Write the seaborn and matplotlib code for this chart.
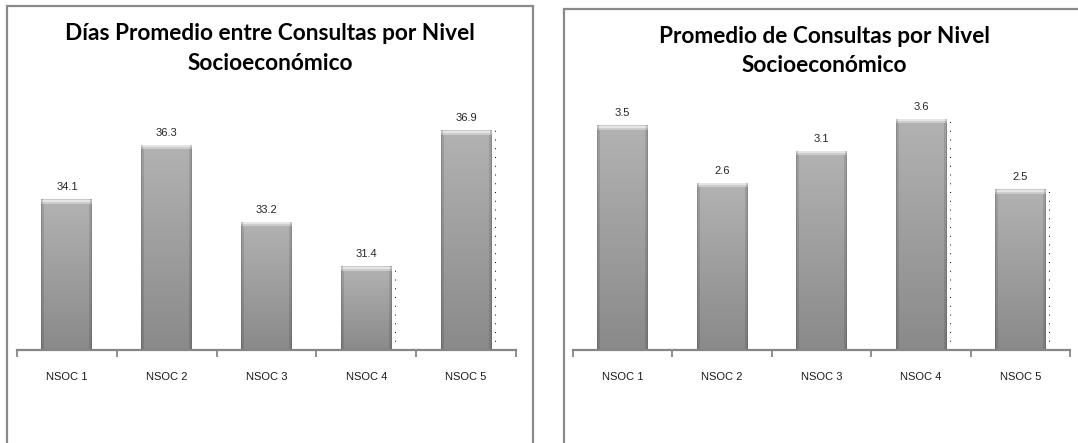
import numpy as np
import pandas as pd
import matplotlib
matplotlib.use("Agg")
import matplotlib.pyplot as plt
from matplotlib.patches import Rectangle
import seaborn as sns

# Data
categorias = ["NSOC 1", "NSOC 2", "NSOC 3", "NSOC 4", "NSOC 5"]
dias_promedio = [34.1, 36.3, 33.2, 31.4, 36.9]
consultas_promedio = [3.5, 2.6, 3.1, 3.6, 2.5]

titulo_dias = "Días Promedio entre Consultas por Nivel\nSocioeconómico"
titulo_consultas = "Promedio de Consultas por Nivel\nSocioeconómico"

sns.set_style("white")
plt.rcParams["font.family"] = ["Liberation Sans", "DejaVu Sans"]

W, H = 1078, 443
fig = plt.figure(figsize=(W / 100, H / 100), dpi=100)
fig.patch.set_facecolor("white")

AXIS_GRAY = "#868686"


def px_box(x0, y_top, x1, y_base):
    """Axes rectangle in figure fractions from pixel coordinates (origin top-left)."""
    return [x0 / W, (H - y_base) / H, (x1 - x0) / W, (y_base - y_top) / H]


def shade_bar(ax, patch, ylo):
    """Paint a beveled grey gradient inside a bar patch."""
    x0 = patch.get_x()
    w = patch.get_width()
    top = patch.get_y() + patch.get_height()
    bottom = max(patch.get_y(), ylo)
    p0 = ax.transData.transform((x0, bottom))
    p1 = ax.transData.transform((x0 + w, top))
    wpx = max(int(round(p1[0] - p0[0])), 4)
    hpx = max(int(round(p1[1] - p0[1])), 4)
    t = np.linspace(0, 1, hpx)[:, None]          # 0 at top, 1 at bottom
    val = np.repeat(0.70 - 0.16 * t, wpx, axis=1)
    # darker vertical edges
    xp = np.arange(wpx)[None, :]
    edge = np.minimum(xp, wpx - 1 - xp)
    val = val * np.where(edge < 1, 0.78, np.where(edge < 3, 0.89, 1.0))
    # light bevel on the top
    yp = np.arange(hpx)[:, None]
    bevel = np.where(yp < 1, 0.78, np.where(yp < 3, 0.90, np.where(yp < 5, 0.80, 0.0)))
    bevel = np.where(edge < 2, bevel * 0.85, bevel)
    val = np.where(bevel > 0, np.maximum(val, bevel), val)
    img = np.repeat(val[:, :, None], 3, axis=2)
    im = ax.imshow(img, extent=(x0, x0 + w, bottom, top), aspect="auto",
                   interpolation="bilinear", zorder=3, origin="upper")
    im.set_clip_path(patch)
    patch.set_alpha(0)


def draw_chart(ax, values, ylim, fmt):
    df = pd.DataFrame({"cat": categorias, "val": values})
    sns.barplot(data=df, x="cat", y="val", color="#a6a6a6", width=0.51,
                ax=ax, zorder=2, saturation=1)
    ax.set_xlim(-0.5, len(categorias) - 0.5)
    ax.set_ylim(*ylim)
    ax.set_xlabel("")
    ax.set_ylabel("")
    ax.set_yticks([])
    for side in ("left", "top", "right"):
        ax.spines[side].set_visible(False)
    ax.spines["bottom"].set_color(AXIS_GRAY)
    ax.spines["bottom"].set_linewidth(1.6)
    ax.spines["bottom"].set_zorder(5)
    ax.set_facecolor("none")

    # category labels centred, tick marks between categories
    ax.set_xticks(range(len(categorias)))
    ax.set_xticklabels(categorias, fontsize=8, color="#1a1a1a")
    ax.tick_params(axis="x", which="major", bottom=True, length=0, pad=16)
    ax.set_xticks(np.arange(-0.5, len(categorias)), minor=True)
    ax.tick_params(axis="x", which="minor", bottom=True, length=5, width=1.3,
                   color=AXIS_GRAY, direction="out")

    for patch, v in zip(ax.patches, values):
        shade_bar(ax, patch, ylim[0])
        cx = patch.get_x() + patch.get_width() / 2
        ax.annotate(fmt.format(v), (cx, v), xytext=(0, 5),
                    textcoords="offset points", ha="center", va="bottom",
                    fontsize=8, color="#262626", zorder=6)

    # dotted drop lines beside the last two bars
    for patch, v in list(zip(ax.patches, values))[3:]:
        xr = patch.get_x() + patch.get_width() + 0.035
        ax.vlines(xr, ylim[0], v, colors="black", linewidth=0.7,
                  linestyles=(0, (1, 8)), zorder=4)


ax1 = fig.add_axes(px_box(17, 103, 516, 350))
draw_chart(ax1, dias_promedio, (28, 38), "{:.1f}")

ax2 = fig.add_axes(px_box(573, 93, 1070, 350))
draw_chart(ax2, consultas_promedio, (0, 4), "{:.1f}")

# chart frames
for (x0, y0, x1) in [(7, 5.5, 533), (563.5, 9, 1090)]:
    fig.add_artist(Rectangle((x0 / W, -0.05), (x1 - x0) / W, (H - y0) / H + 0.05,
                             transform=fig.transFigure, fill=False,
                             edgecolor="#8a8a8a", linewidth=1.6, zorder=10))

# titles
title_font = ["Lato", "DejaVu Sans"]
fig.text(270 / W, 1 - 48.5 / H, titulo_dias, ha="center", va="center",
         fontsize=16.3, fontweight="bold", family=title_font,
         linespacing=1.5, color="black")
fig.text(824 / W, 1 - 51 / H, titulo_consultas, ha="center", va="center",
         fontsize=16.3, fontweight="bold", family=title_font,
         linespacing=1.5, color="black")

fig.savefig("out.png", dpi=100, facecolor="white")
